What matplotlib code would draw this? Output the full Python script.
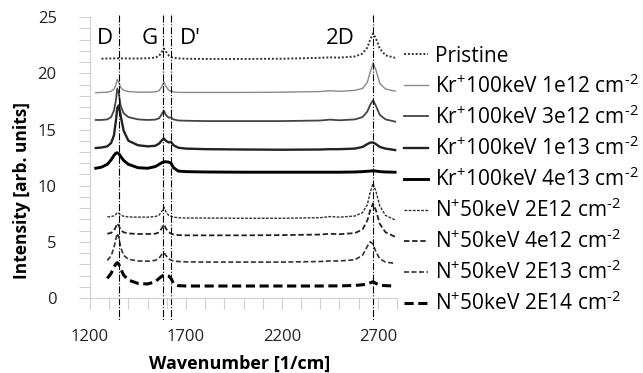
import numpy as np
import matplotlib
matplotlib.use("Agg")
import matplotlib.pyplot as plt

plt.rcParams['font.family'] = ['Open Sans', 'DejaVu Sans']
plt.rcParams['mathtext.fontset'] = 'custom'
plt.rcParams['mathtext.rm'] = 'Open Sans'
plt.rcParams['mathtext.it'] = 'Open Sans'
plt.rcParams['mathtext.bf'] = 'Open Sans:bold'

nan = np.nan

# wavenumber grid (cm^-1), denser around the peaks
wavenumber = [1230, 1260, 1290, 1310, 1325, 1335, 1342, 1350, 1360, 1375, 1400, 1450,
              1500, 1540, 1560, 1575, 1585, 1595, 1610, 1622, 1635, 1660, 1700, 1800,
              2000, 2200, 2400, 2450, 2500, 2580, 2620, 2645, 2660, 2675, 2690, 2710,
              2740, 2790]

pristine = [nan, 21.30, 21.32, 21.33, 21.33, 21.34, 21.34, 21.34, 21.33, 21.33, 21.32, 21.32,
            21.34, 21.40, 21.55, 21.95, 22.20, 21.95, 21.60, 21.45, 21.38, 21.33, 21.30, 21.28,
            21.28, 21.30, 21.38, 21.42, 21.40, 21.50, 21.75, 22.30, 23.00, 23.55, 23.10, 22.20,
            21.60, 21.38]
kr_1e12 = [18.28, 18.30, 18.32, 18.40, 18.60, 19.00, 19.45, 19.20, 18.75, 18.50, 18.38, 18.32,
           18.32, 18.35, 18.45, 18.85, 19.25, 18.85, 18.50, 18.42, 18.35, 18.30, 18.30, 18.30,
           18.30, 18.32, 18.38, 18.45, 18.40, 18.48, 18.65, 19.20, 20.10, 20.90, 20.30, 19.10,
           18.60, 18.42]
kr_3e12 = [15.85, 15.85, 15.90, 16.10, 16.70, 17.60, 18.65, 18.20, 17.10, 16.45, 16.10, 15.90,
           15.85, 15.88, 16.00, 16.40, 16.67, 16.30, 16.05, 16.07, 15.90, 15.80, 15.78, 15.75,
           15.75, 15.75, 15.80, 15.88, 15.82, 15.90, 16.10, 16.60, 17.20, 17.60, 17.10, 16.30,
           15.90, 15.70]
kr_1e13 = [13.35, 13.40, 13.50, 13.80, 14.50, 15.80, 16.90, 17.15, 16.20, 14.90, 14.00, 13.60,
           13.50, 13.55, 13.75, 14.05, 14.20, 14.00, 13.85, 13.90, 13.60, 13.38, 13.30, 13.25,
           13.22, 13.20, 13.22, 13.25, 13.25, 13.30, 13.45, 13.70, 13.83, 13.85, 13.70, 13.45,
           13.30, 13.17]
kr_4e13 = [11.55, 11.65, 11.90, 12.30, 12.70, 12.90, 12.93, 12.85, 12.60, 12.25, 11.90, 11.60,
           11.55, 11.70, 11.90, 12.05, 12.12, 12.13, 12.10, 12.00, 11.60, 11.30, 11.25, 11.22,
           11.20, 11.20, 11.20, 11.20, 11.20, 11.22, 11.25, 11.28, 11.30, 11.32, 11.30, 11.25,
           11.22, 11.20]
n_2e12 = [nan, nan, 7.22, 7.25, 7.32, 7.45, 7.60, 7.55, 7.38, 7.28, 7.22, 7.20,
          7.20, 7.25, 7.38, 7.75, 8.07, 7.70, 7.35, 7.28, 7.20, 7.15, 7.12, 7.12,
          7.10, 7.10, 7.15, 7.25, 7.20, 7.30, 7.60, 8.30, 9.40, 10.20, 9.50, 8.20,
          7.35, 6.95]
n_4e12 = [nan, nan, 5.72, 5.80, 6.00, 6.35, 6.64, 6.45, 6.05, 5.85, 5.75, 5.70,
          5.70, 5.72, 5.85, 6.25, 6.55, 6.20, 5.85, 5.75, 5.65, 5.60, 5.58, 5.58,
          5.58, 5.60, 5.65, 5.72, 5.68, 5.78, 6.10, 6.90, 7.80, 8.42, 7.80, 6.60,
          5.85, 5.45]
n_2e13 = [nan, nan, 3.35, 3.75, 4.50, 5.30, 5.75, 5.40, 4.50, 3.80, 3.45, 3.30,
          3.28, 3.35, 3.55, 3.90, 4.03, 3.80, 3.50, 3.38, 3.30, 3.25, 3.22, 3.20,
          3.20, 3.20, 3.25, 3.30, 3.30, 3.40, 3.80, 4.60, 5.00, 4.80, 4.10, 3.50,
          3.20, 3.08]
n_2e14 = [nan, nan, 1.75, 2.20, 2.75, 3.05, 3.14, 3.00, 2.60, 2.05, 1.60, 1.30,
          1.25, 1.45, 1.75, 1.95, 2.05, 2.02, 1.95, 1.75, 1.30, 1.10, 1.07, 1.07,
          1.07, 1.07, 1.07, 1.08, 1.08, 1.12, 1.18, 1.25, 1.35, 1.45, 1.30, 1.15,
          1.10, 1.07]

labels = ["Pristine",
          r"Kr$^{+}$100keV 1e12 cm$^{\text{-2}}$",
          r"Kr$^{+}$100keV 3e12 cm$^{\text{-2}}$",
          r"Kr$^{+}$100keV 1e13 cm$^{\text{-2}}$",
          r"Kr$^{+}$100keV 4e13 cm$^{\text{-2}}$",
          r"N$^{+}$50keV 2E12 cm$^{\text{-2}}$",
          r"N$^{+}$50keV 4e12 cm$^{\text{-2}}$",
          r"N$^{+}$50keV 2E13 cm$^{\text{-2}}$",
          r"N$^{+}$50keV 2E14 cm$^{\text{-2}}$"]

peak_names = ["D", "G", "D'", "2D"]
peak_pos = [1349, 1580, 1623, 2675]
peak_label_x = [1278, 1512, 1721, 2502]

series = [pristine, kr_1e12, kr_3e12, kr_1e13, kr_4e13, n_2e12, n_4e12, n_2e13, n_2e14]
styles = [
    dict(color='#333333', lw=1.4, ls=(0, (1, 1))),
    dict(color='#8a8a8a', lw=1.0, ls='-'),
    dict(color='#444444', lw=1.3, ls='-'),
    dict(color='#222222', lw=1.7, ls='-'),
    dict(color='#000000', lw=2.1, ls='-'),
    dict(color='#333333', lw=1.0, ls=(0, (2, 1))),
    dict(color='#222222', lw=1.3, ls=(0, (3, 1.5))),
    dict(color='#333333', lw=1.2, ls=(0, (3, 1.5))),
    dict(color='#000000', lw=2.2, ls=(0, (3, 1.5))),
]

fig = plt.figure(figsize=(6.43, 3.73), dpi=100)
ax = fig.add_axes([0.14, 0.201, 0.4775, 0.753])

for y, lab, st in zip(series, labels, styles):
    ax.plot(wavenumber, y, label=lab, **st)

for p in peak_pos:
    ax.plot([p, p], [25.2, -2.0], color='black', lw=0.8, ls='-.', clip_on=False)

for name, xpos in zip(peak_names, peak_label_x):
    ax.text(xpos, 23.1, name, fontsize=16, ha='center', va='center')

ax.set_xlim(1200, 2800)
ax.set_ylim(0, 25)
ax.set_xticks([1200, 1700, 2200, 2700])
ax.set_xticks(np.arange(1200, 2801, 100), minor=True)
ax.set_yticks([0, 5, 10, 15, 20, 25])
ax.set_yticks(np.arange(0, 26, 1), minor=True)
for s in ['top', 'right']:
    ax.spines[s].set_visible(False)
for s in ['left', 'bottom']:
    ax.spines[s].set_color('#d0d0d0')
ax.tick_params(which='both', direction='out', length=8, color='#d0d0d0', width=0.8)
ax.tick_params(axis='y', which='major', labelsize=12, pad=16, labelcolor='#222222')
ax.tick_params(axis='x', which='major', labelsize=12, pad=14, labelcolor='#222222')

fig.text(0.034, 0.49, "Intensity [arb. units]", rotation=90, ha='center', va='center',
         fontsize=12.5, fontweight='bold')
fig.text(0.373, 0.025, "Wavenumber [1/cm]", ha='center', va='center',
         fontsize=13, fontweight='bold')

leg = fig.legend(loc='upper left', bbox_to_anchor=(0.629, 0.878), frameon=False,
                 fontsize=15, handlelength=1.15, handletextpad=0.3, labelspacing=0.36,
                 borderaxespad=0, borderpad=0)

fig.savefig("out.png", dpi=100)
